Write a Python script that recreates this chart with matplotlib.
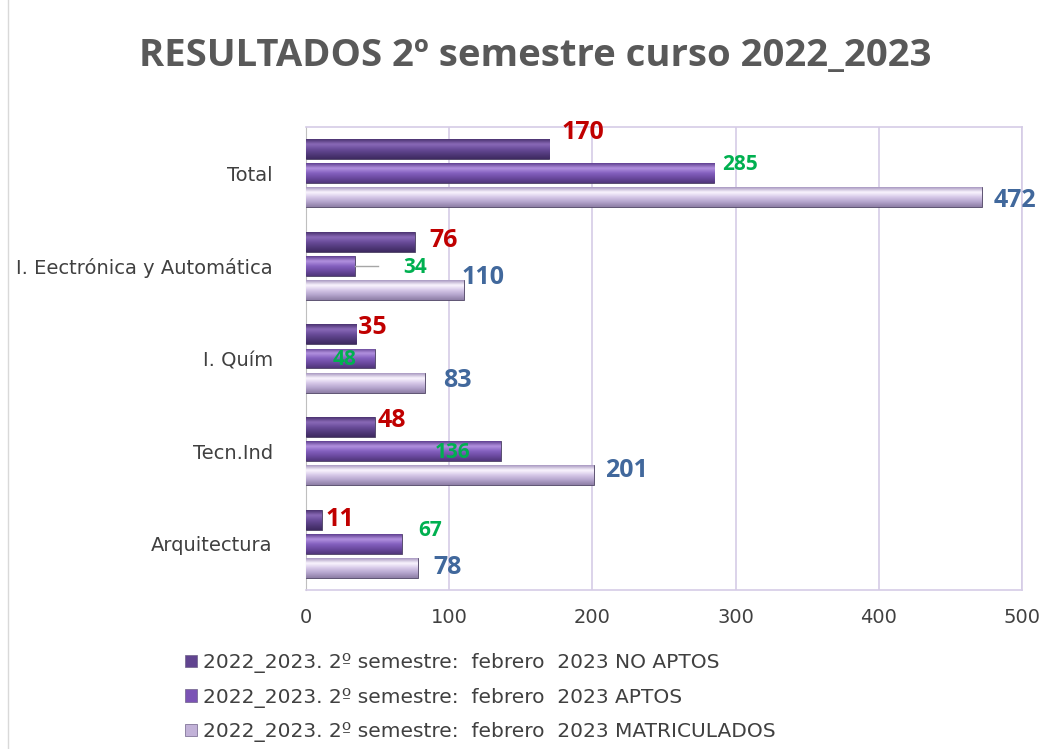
import matplotlib.pyplot as plt
import numpy as np
from matplotlib.colors import LinearSegmentedColormap
from matplotlib.patches import Patch

# data
categories = ["Arquitectura", "Tecn.Ind", "I. Quím", "I. Eectrónica y Automática", "Total"]
no_aptos = [11, 48, 35, 76, 170]
aptos = [67, 136, 48, 34, 285]
matriculados = [78, 201, 83, 110, 472]
series_names = ["2022_2023. 2º semestre:  febrero  2023 NO APTOS",
                "2022_2023. 2º semestre:  febrero  2023 APTOS",
                "2022_2023. 2º semestre:  febrero  2023 MATRICULADOS"]

# label offsets (dx, dy) in data units, relative to bar end / bar centre
off_no = [(12.7, 0.0), (12.0, 0.07), (11.0, 0.07), (19.7, 0.01), (23.4, 0.18)]
off_ap = [(19.6, 0.14), (-34.0, -0.01), (-21.0, -0.01), (42.0, -0.02), (18.0, 0.09)]
off_ma = [(20.5, 0.0), (23.0, 0.05), (22.5, 0.02), (13.6, 0.13), (23.0, -0.03)]

styles = [
    dict(base="#614490", cmap=["#4a3270", "#8a6ab8", "#6a4c9a", "#523a7c", "#3e2a60"], lc="#c00000", fs=18),
    dict(base="#7b53b5", cmap=["#5e3f90", "#b392e0", "#8460bf", "#6b4aa0", "#50367a"], lc="#00b050", fs=15),
    dict(base="#c2b2d8", cmap=["#a898c0", "#fbf6ff", "#d6c8e8", "#b4a4cc", "#8e7fa6"], lc="#41689c", fs=18),
]

fig = plt.figure(figsize=(10.51, 7.49), dpi=100)
ax = fig.add_axes([0.2912, 0.2123, 0.6812, 0.6181])

y = np.arange(len(categories))
h = 0.215
shifts = [0.26, 0.0, -0.26]
all_vals = [no_aptos, aptos, matriculados]
all_offs = [off_no, off_ap, off_ma]

grad = np.linspace(0, 1, 64).reshape(-1, 1)
for vals, offs, st, sh in zip(all_vals, all_offs, styles, shifts):
    cm = LinearSegmentedColormap.from_list("g", st["cmap"])
    bars = ax.barh(y + sh, vals, height=h, color=st["base"], edgecolor="#4a4060",
                   linewidth=0.6, zorder=3)
    for b in bars:
        x0, y0 = b.get_x(), b.get_y()
        im = ax.imshow(grad, cmap=cm, aspect="auto", origin="upper",
                       extent=[x0, x0 + b.get_width(), y0, y0 + b.get_height()],
                       zorder=3.5, interpolation="bicubic")
        im.set_clip_path(b)
    for yi, v, (dx, dy) in zip(y, vals, offs):
        ax.text(v + dx, yi + sh + dy, str(v), color=st["lc"], fontsize=st["fs"],
                fontweight="bold", ha="center", va="center", zorder=5,
                family="Open Sans")

# leader line for the 34 label
ax.plot([34.5, 50.5], [3.0, 3.0], color="#a6a6a6", lw=1, zorder=4)

ax.set_xlim(0, 500)
ax.set_ylim(-0.5, 4.5)
ax.set_xticks(np.arange(0, 501, 100))
ax.set_yticks(y)
ax.set_yticklabels(categories)
ax.tick_params(axis="both", length=0, labelsize=14, colors="#404040")
ax.tick_params(axis="x", pad=13)
ax.tick_params(axis="y", pad=24)
ax.grid(axis="x", color="#d5cce6", lw=1.2, zorder=0)
for s in ["top", "right", "bottom"]:
    ax.spines[s].set_color("#d5cce6")
    ax.spines[s].set_linewidth(1.2)
ax.spines["left"].set_color("#bfbfbf")

fig.text(0.509, 0.925, "RESULTADOS 2º semestre curso 2022_2023", ha="center", va="center",
         fontsize=27.5, fontweight="bold", color="#595959", family="Open Sans")

handles = [Patch(facecolor=st["base"], edgecolor="#6f6288", lw=0.5) for st in styles]
fig.legend(handles, series_names, loc="upper left", bbox_to_anchor=(0.176, 0.128),
           frameon=False, fontsize=14.5, labelcolor="#404040", handlelength=0.6,
           handleheight=0.6, handletextpad=0.3, labelspacing=0.72, borderaxespad=0,
           borderpad=0)

# faint outer chart border on the left
fig.add_artist(plt.Line2D([0.008, 0.008], [0.0, 1.0], color="#d9d9d9", lw=1))

plt.savefig("out.png", dpi=100)
